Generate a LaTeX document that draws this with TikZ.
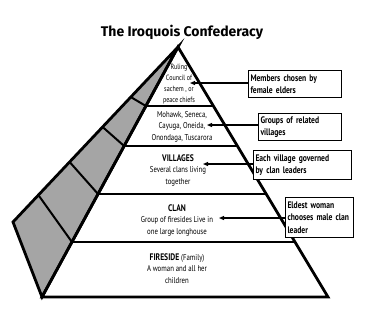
\documentclass[tikz,border=0pt]{standalone}
\usepackage{fontspec}
\setmainfont{PT Sans}
\newfontfamily\titlefont{Fira Sans}
\newfontfamily\bodyfont{PT Sans}[FakeStretch=0.8]
\usetikzlibrary{calc,arrows.meta}
\definecolor{sidegray}{RGB}{165,165,165}
\begin{document}
\begin{tikzpicture}[x=1pt,y=-1pt,
  edge/.style={line width=2.8pt,line join=miter},
  band/.style={line width=2pt},
  ptext/.style={font=\bodyfont\fontsize{8.5}{11.5}\selectfont,align=center,inner sep=0pt},
  smalltext/.style={font=\bodyfont\fontsize{7.6}{11}\selectfont,align=center,inner sep=0pt},
  notebox/.style={draw,fill=white,line width=1pt,font=\bodyfont\bfseries\fontsize{9.5}{12.5}\selectfont,align=left,anchor=north west,inner sep=2pt},
  pointer/.style={line width=1.1pt,-{Triangle[length=5pt,width=4pt]}}]
\useasboundingbox (0,0) rectangle (367,309);

\node[font=\titlefont\bfseries\fontsize{14}{16}\selectfont] (title) at (182,32) {The Iroquois Confederacy};

% pyramid corners
\coordinate (apex) at (178,47);
\coordinate (bl) at (42,297);
\coordinate (br) at (328,297);
\coordinate (side) at (13,222);

% side face
\draw[edge,fill=sidegray] (apex) -- (side) -- (bl) -- cycle;
% band lines on the side face
\foreach \s/\f in {0.286/0.236,0.457/0.396,0.657/0.588,0.846/0.78}{
  \draw[band] ($(apex)!\s!(side)$) -- ($(apex)!\f!(bl)$);
}
% band lines on the front face
\foreach \f in {0.236,0.396,0.588,0.78}{
  \draw[band] ($(apex)!\f!(bl)$) -- ($(apex)!\f!(br)$);
}
% front face
\draw[edge] (apex) -- (bl) -- (br) -- cycle;

% texts in the pyramid
\node[smalltext] (council) at (179,84) {Ruling\\Council of\\sachem , or\\peace chiefs};
\node[ptext] (nations) at (182,126.5) {Mohawk, Seneca,\\Cayuga, Oneida,\\Onondaga, Tuscarora};
\node[ptext] (villages) at (178,170.5) {{\bfseries\fontsize{9.5}{11.5}\selectfont VILLAGES}\\Several clans living\\together};
\node[ptext] (clan) at (177,220.5) {{\bfseries\fontsize{9.5}{11.5}\selectfont CLAN}\\Group of firesides Live in\\one large longhouse};
\node[ptext] (fireside) at (177,268.5) {{\bfseries\fontsize{9.5}{11.5}\selectfont FIRESIDE} (Family)\\A woman and all her\\children};

% note boxes
\node[notebox,minimum width=93pt,minimum height=27pt,text width=89pt] (n1) at (248,70) {Members chosen by\\female elders};
\node[notebox,minimum width=83pt,minimum height=27pt,text width=79pt] (n2) at (258,113) {Groups of related\\villages};
\node[notebox,minimum width=98pt,minimum height=29pt,text width=94pt] (n3) at (253,150) {Each village governed\\by clan leaders};
\node[notebox,minimum width=68pt,minimum height=40pt,text width=64pt] (n4) at (285,197) {Eldest woman\\chooses male clan\\leader};

% arrow tips
\coordinate (t1) at (190,83);
\coordinate (t2) at (207,125);
\coordinate (t3) at (203,164);
\coordinate (t4) at (219,218);

\draw[pointer] (n1.west |- t1) -- (t1);
\draw[pointer] (n2.west |- t2) -- (t2);
\draw[pointer] (n3.west |- t3) -- (t3);
\draw[pointer] (n4.west |- t4) -- (t4);
\end{tikzpicture}
\end{document}
